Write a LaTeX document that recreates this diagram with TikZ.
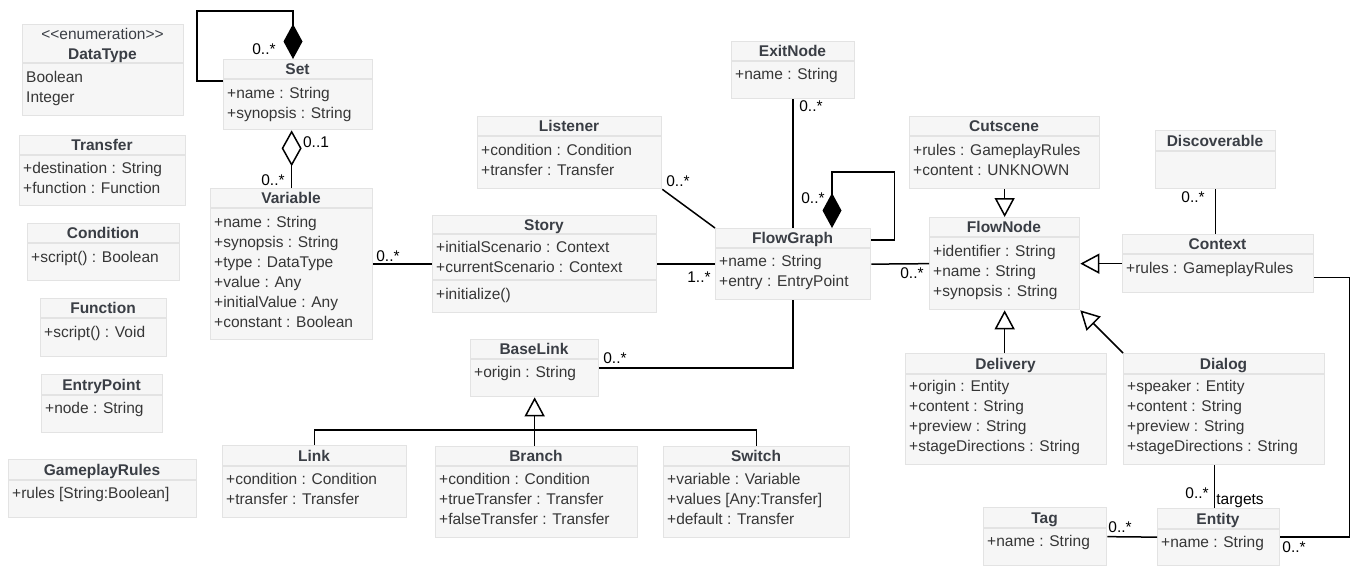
\documentclass[tikz,border=0pt]{standalone}
\usepackage{fontspec}
\setmainfont{Liberation Sans}
\usetikzlibrary{arrows.meta,calc}
\definecolor{boxfill}{HTML}{F6F6F6}
\definecolor{boxline}{HTML}{E3E3E3}
\definecolor{titlecol}{HTML}{3A3E45}
\definecolor{textcol}{HTML}{363636}
\tikzset{
 box/.style={draw=boxline, fill=boxfill, line width=1.3pt, inner sep=0pt, rectangle, anchor=north west},
 sepline/.style={draw=boxline, line width=1.3pt},
 ctitle/.style={font=\fontsize{15.5}{18}\selectfont\bfseries, text=titlecol, inner sep=0pt, anchor=base},
 cstereo/.style={font=\fontsize{15.5}{18}\selectfont, text=titlecol, inner sep=0pt, anchor=base},
 attr/.style={font=\fontsize{15.5}{18}\selectfont, text=textcol, inner sep=0pt, anchor=base west},
 mult/.style={font=\fontsize{15.5}{18}\selectfont, text=black, inner sep=0pt},
 conn/.style={draw=black, line width=1.5pt},
 comp/.style={conn, -{Diamond[length=35pt,width=19pt,fill=black]}},
 aggr/.style={conn, -{Diamond[open,length=36pt,width=20pt,fill=white]}},
 gen/.style={conn, -{Triangle[open,length=19pt,width=20pt,fill=white]}},
}
% #1 name, #2 x, #3 y, #4 w, #5 h, #6 separator y, #7 title
\newcommand\umlclass[7]{%
 \node[box, minimum width=#4pt, minimum height=#5pt] (#1) at (#2,-#3) {};
 \draw[sepline] (#2,-#6) -- ({#2+#4},-#6);
 \node[ctitle] (#1-t) at ({#2+#4/2},{-((#3+#6)/2+5.5)}) {#7};
}
% #1 name, #2 x, #3 centre y of first line, #4 list
\newcommand\umlattrs[4]{%
 \foreach \t [count=\i] in {#4} {\node[attr] (#1-a\i) at ({#2+4},{-(#3+5.5+20*(\i-1))}) {\t};}
}
\begin{document}
\begin{tikzpicture}[x=1pt,y=1pt]
\useasboundingbox (0,0) rectangle (1351,-565);
% ---------- left column ----------
\node[box, minimum width=161pt, minimum height=91pt] (DataType) at (22,-24) {};
\draw[sepline] (22,-63) -- (183,-63);
\node[cstereo] (DataType-s) at (102.5,-39.5) {<\kern0pt<enumeration>\kern0pt>};
\node[ctitle] (DataType-t) at (102.5,-59.5) {DataType};
\umlattrs{DataType}{22}{77}{Boolean,Integer}

\umlclass{Transfer}{19}{135}{166}{70}{155}{Transfer}
\umlattrs{Transfer}{19}{168}{+destination : String,+function : Function}
\umlclass{Condition}{27}{223}{152}{57}{243}{Condition}
\umlattrs{Condition}{27}{257}{+script() : Boolean}
\umlclass{Function}{40}{298}{126}{58}{318}{Function}
\umlattrs{Function}{40}{332}{+script() : Void}
\umlclass{EntryPoint}{41}{374}{121}{58}{395}{EntryPoint}
\umlattrs{EntryPoint}{41}{408}{+node : String}
\umlclass{GameplayRules}{8}{459}{188}{58}{480}{GameplayRules}
\umlattrs{GameplayRules}{8}{493}{+rules [String:Boolean]}
% ---------- Set / Variable / Story ----------
\umlclass{Set}{223}{59}{149}{70}{79}{Set}
\umlattrs{Set}{223}{93}{+name : String,+synopsis : String}
\umlclass{Variable}{210}{188}{162}{151}{208}{Variable}
\umlattrs{Variable}{210}{222}{+name : String,+synopsis : String,+type : DataType,+value : Any,+initialValue : Any,+constant : Boolean}
\umlclass{Story}{432}{215}{224}{97}{234}{Story}
\umlattrs{Story}{432}{247}{+initialScenario : Context,+currentScenario : Context}
\draw[sepline] (432,-280) -- (656,-280);
\node[attr] (Story-m1) at (436,-299.5) {+initialize()};
\umlclass{Listener}{477}{116}{184}{72}{136}{Listener}
\umlattrs{Listener}{477}{150}{+condition : Condition,+transfer : Transfer}
\umlclass{ExitNode}{731}{41}{123}{57}{61}{ExitNode}
\umlattrs{ExitNode}{731}{74}{+name : String}
\umlclass{FlowGraph}{715}{228}{155}{71}{248}{FlowGraph}
\umlattrs{FlowGraph}{715}{261}{+name : String,+entry : EntryPoint}
\umlclass{BaseLink}{470}{339}{128}{57}{359}{BaseLink}
\umlattrs{BaseLink}{470}{372}{+origin : String}
\umlclass{Link}{222}{445}{184}{72}{466}{Link}
\umlattrs{Link}{222}{479}{+condition : Condition,+transfer : Transfer}
\umlclass{Branch}{435}{446}{202}{91}{466}{Branch}
\umlattrs{Branch}{435}{479}{+condition : Condition,+trueTransfer : Transfer,+falseTransfer : Transfer}
\umlclass{Switch}{663}{446}{186}{91}{466}{Switch}
\umlattrs{Switch}{663}{479}{+variable : Variable,+values [Any:Transfer],+default : Transfer}
% ---------- right part ----------
\umlclass{Cutscene}{909}{116}{190}{72}{136}{Cutscene}
\umlattrs{Cutscene}{909}{150}{+rules : GameplayRules,+content : UNKNOWN}
\umlclass{Discoverable}{1155}{130}{120}{58}{151}{Discoverable}
\umlclass{FlowNode}{929}{217}{150}{92}{237}{FlowNode}
\umlattrs{FlowNode}{929}{251}{+identifier : String,+name : String,+synopsis : String}
\umlclass{Context}{1122}{234}{191}{58}{254}{Context}
\umlattrs{Context}{1122}{268}{+rules : GameplayRules}
\umlclass{Delivery}{905}{353}{201}{111}{374}{Delivery}
\umlattrs{Delivery}{905}{386}{+origin : Entity,+content : String,+preview : String,+stageDirections : String}
\umlclass{Dialog}{1123}{353}{201}{111}{374}{Dialog}
\umlattrs{Dialog}{1123}{386}{+speaker : Entity,+content : String,+preview : String,+stageDirections : String}
\umlclass{Tag}{983}{507}{123}{58}{528}{Tag}
\umlattrs{Tag}{983}{541}{+name : String}
\umlclass{Entity}{1157}{508}{122}{57}{529}{Entity}
\umlattrs{Entity}{1157}{542}{+name : String}
% ---------- connectors ----------
\draw[comp] ([yshift=-22pt]Set.north west) -- ++(-26,0) -- ++(0,70) -| ([xshift=70pt]Set.north west);
\node[mult] (m1) at (264,-49) {0..*};
\draw[aggr] (Variable.north) -- (Variable.north |- Set.south);
\node[mult] (m2) at (316,-142) {0..1};
\node[mult] (m3) at (273,-180) {0..*};
\draw[conn] (Variable.east) -- (Story.west);
\node[mult] (m4) at (388,-256) {0..*};
\draw[conn] (Story.east) -- (FlowGraph.west);
\node[mult] (m5) at (699,-277) {1..*};
\draw[conn] (Listener.south east) -- (FlowGraph.north west);
\node[mult] (m6) at (678,-181) {0..*};
\draw[conn] (ExitNode.south) -- (FlowGraph.north);
\node[mult] (m7) at (811,-106) {0..*};
\draw[comp] ([yshift=-12pt]FlowGraph.north east) -- ++(23,0) -- ++(0,68) -| ([xshift=117pt]FlowGraph.north west);
\node[mult] (m8) at (813,-198) {0..*};
\draw[conn] (FlowGraph.south) |- (BaseLink.east);
\node[mult] (m9) at (615,-358) {0..*};
\draw[conn] (FlowGraph.east) -- (FlowNode.west);
\node[mult] (m10) at (912,-273) {0..*};
\draw[conn] (Link.north) -- ++(0,15) -| (Switch.north);
\draw[gen] (Branch.north -| BaseLink.south) -- (BaseLink.south);
\draw[gen] (Cutscene.south) -- (Cutscene.south |- FlowNode.north);
\draw[gen] (Context.west |- FlowNode.east) -- (FlowNode.east);
\draw[gen] (Delivery.north -| FlowNode.south) -- (FlowNode.south);
\draw[gen] (Dialog.north west) -- (FlowNode.south east);
\draw[conn] (Discoverable.south) -- (Discoverable.south |- Context.north);
\node[mult] (m11) at (1193,-197) {0..*};
\draw[conn] ([yshift=-14pt]Context.east) -- ++(35,0) |- (Entity.east);
\node[mult] (m12) at (1294,-547) {0..*};
\draw[conn] ([xshift=-4pt]Entity.north) -- ([xshift=-4pt]Entity.north |- Dialog.south);
\node[mult] (m13) at (1197,-493) {0..*};
\node[mult] (m14) at (1240,-501) {targets};
\draw[conn] (Tag.east) -- (Entity.west);
\node[mult] (m15) at (1120,-527) {0..*};
\end{tikzpicture}
\end{document}
